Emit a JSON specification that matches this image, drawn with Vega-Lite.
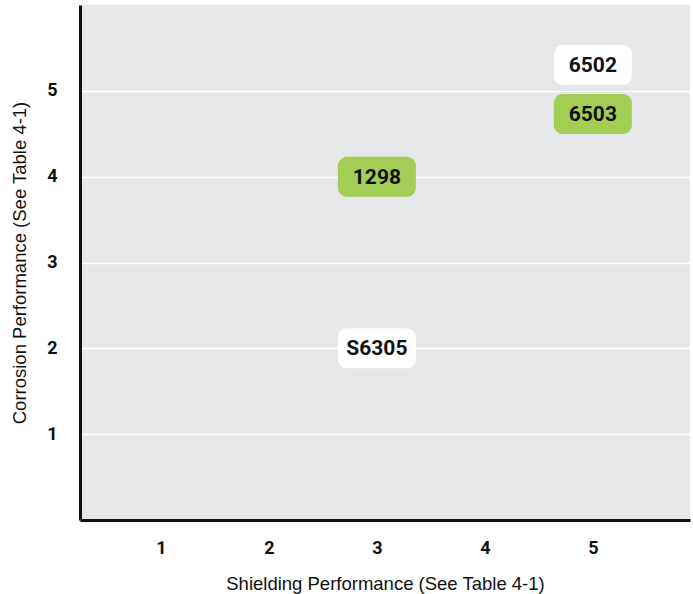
{
  "$schema": "https://vega.github.io/schema/vega-lite/v6.json",
  "width": 610,
  "height": 515,
  "autosize": "none",
  "padding": {"left": 80, "top": 5, "right": 3, "bottom": 74},
  "background": "white",
  "config": {
    "view": {"stroke": null, "fill": "#e6e7e8"},
    "axis": {"labelFont": "Roboto", "titleFont": "Liberation Sans"}
  },
  "data": {
    "values": [
      {"product": "6502", "shielding": 5, "corrosion": 5.3, "type": "white"},
      {"product": "6503", "shielding": 5, "corrosion": 4.73, "type": "green"},
      {"product": "1298", "shielding": 3, "corrosion": 4, "type": "green"},
      {"product": "S6305", "shielding": 3, "corrosion": 2, "type": "white"}
    ]
  },
  "encoding": {
    "x": {
      "field": "shielding", "type": "quantitative",
      "scale": {"domain": [0.25, 5.9], "nice": false, "zero": false},
      "axis": {
        "values": [1, 2, 3, 4, 5], "grid": false, "ticks": false,
        "domainColor": "#111111", "domainWidth": 3,
        "labelFontSize": 18, "labelFontWeight": "bold", "labelColor": "#111111", "labelPadding": 19,
        "title": "Shielding Performance (See Table 4-1)", "titleFontSize": 18.5, "titleFontWeight": "normal",
        "titleColor": "#111111", "titlePadding": 17
      }
    },
    "y": {
      "field": "corrosion", "type": "quantitative",
      "scale": {"domain": [0, 6], "nice": false},
      "axis": {
        "values": [1, 2, 3, 4, 5], "grid": true, "gridColor": "white", "gridWidth": 1.5, "ticks": false,
        "domainColor": "#111111", "domainWidth": 3,
        "labelFontSize": 18, "labelFontWeight": "bold", "labelColor": "#111111", "labelPadding": 23,
        "title": "Corrosion Performance (See Table 4-1)", "titleFontSize": 18.5, "titleFontWeight": "normal",
        "titleColor": "#111111", "titlePadding": 17
      }
    }
  },
  "layer": [
    {
      "mark": {"type": "rect", "width": 78, "height": 40, "cornerRadius": 9},
      "encoding": {
        "color": {
          "field": "type", "type": "nominal",
          "scale": {"domain": ["white", "green"], "range": ["#ffffff", "#a3cd55"]},
          "legend": null
        }
      }
    },
    {
      "mark": {"type": "text", "font": "Roboto", "fontWeight": "bold", "fontSize": 21, "color": "#111111", "baseline": "middle", "dy": 1},
      "encoding": {"text": {"field": "product"}}
    }
  ]
}
